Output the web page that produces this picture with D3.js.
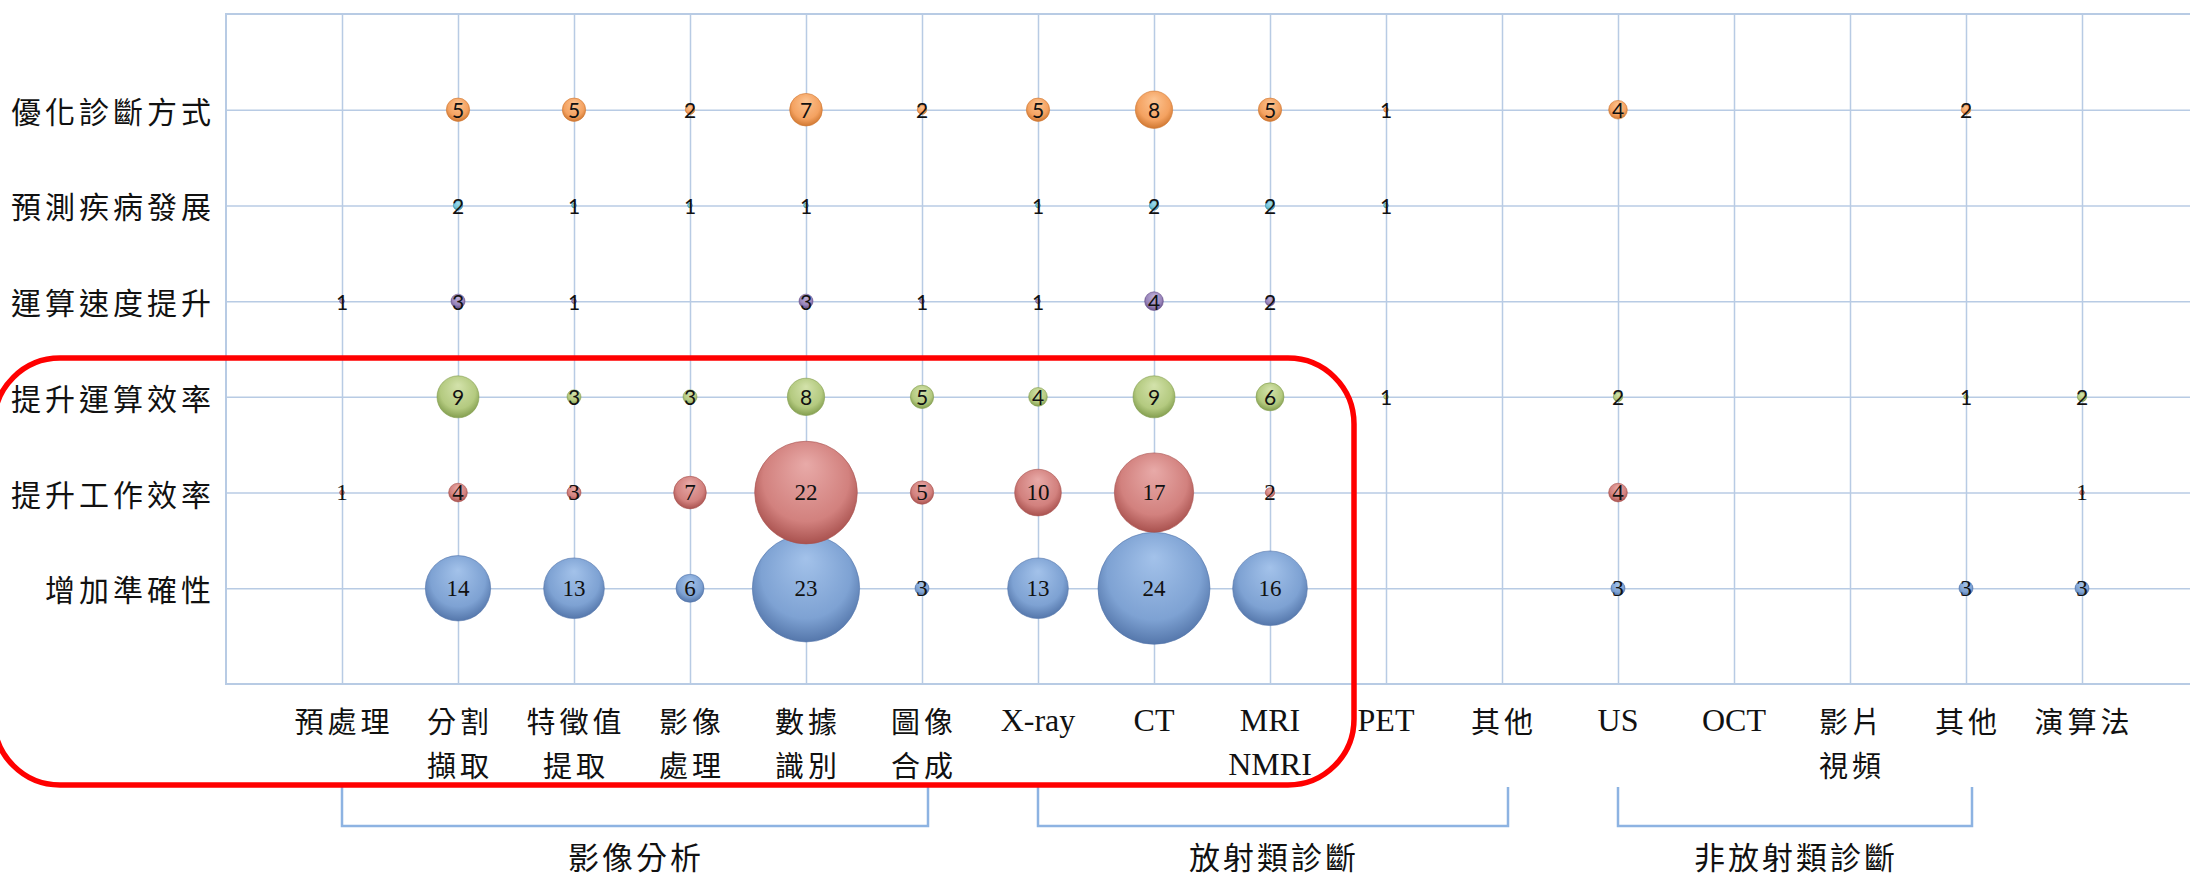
<!DOCTYPE html>
<html>
<head>
<meta charset="utf-8">
<script src="https://cdn.jsdelivr.net/npm/d3@7"></script>
<style>
  html, body { margin: 0; padding: 0; background: #ffffff; }
  svg { display: block; }
</style>
</head>
<body>
<svg id="chart" width="2190" height="878"></svg>
<script>
// ---- data ----
const categories = [
  ["預處理"], ["分割", "擷取"], ["特徵值", "提取"], ["影像", "處理"], ["數據", "識別"],
  ["圖像", "合成"], ["X-ray"], ["CT"], ["MRI", "NMRI"], ["PET"], ["其他"],
  ["US"], ["OCT"], ["影片", "視頻"], ["其他"], ["演算法"]
];
const seriesNames = ["增加準確性", "提升工作效率", "提升運算效率", "運算速度提升", "預測疾病發展", "優化診斷方式"];

// one value per category (null = no bubble)
const accuracyVals = [null, 14, 13, 6, 23, 3, 13, 24, 16, null, null, 3, null, null, 3, 3];
const workEffVals  = [1, 4, 3, 7, 22, 5, 10, 17, 2, null, null, 4, null, null, null, 1];
const compEffVals  = [null, 9, 3, 3, 8, 5, 4, 9, 6, 1, null, 2, null, null, 1, 2];
const speedVals    = [1, 3, 1, null, 3, 1, 1, 4, 2, null, null, null, null, null, null, null];
const predictVals  = [null, 2, 1, 1, 1, null, 1, 2, 2, 1, null, null, null, null, null, null];
const diagVals     = [null, 5, 5, 2, 7, 2, 5, 8, 5, 1, null, 4, null, null, 2, null];

const groupNames = ["影像分析", "放射類診斷", "非放射類診斷"];
const groupStart = [0, 6, 11];
const groupEnd   = [5, 10, 14];

// ---- styling ----
const palette = [
  { light: "#a3c2ea", base: "#7ea2d3", dark: "#5577ab", font: "serif" },
  { light: "#e8aaa8", base: "#d2817e", dark: "#a9524f", font: "serif" },
  { light: "#d3e2ab", base: "#b4ca80", dark: "#849f50", font: "sans" },
  { light: "#bfb1d8", base: "#9884ba", dark: "#6a548c", font: "sans" },
  { light: "#a2dcec", base: "#70c2d9", dark: "#3e92aa", font: "sans" },
  { light: "#fcc492", base: "#f4a261", dark: "#d07832", font: "sans" }
];
const gridColor = "#b8cbe4";
const cjkFont = "'Noto Sans CJK TC', 'Noto Sans CJK SC', sans-serif";
const serifFont = "'Liberation Serif', 'Noto Sans CJK TC', serif";
const sansFont = "Lato, 'Open Sans', sans-serif";

const valueRows = [accuracyVals, workEffVals, compEffVals, speedVals, predictVals, diagVals];

const svg = d3.select("#chart");
const plotLeft = 226, plotTop = 14, plotBottom = 684;
const step = 116;

const x = d3.scaleLinear().domain([0, 17]).range([plotLeft, plotLeft + step * 17]);
const y = d3.scaleLinear().domain([0, 7]).range([plotBottom, plotTop]);
const r = d3.scaleLinear().domain([0, 24]).range([0, 56]);

// gradients for the 3D bubble look
const defs = svg.append("defs");
palette.forEach((p, i) => {
  const g = defs.append("radialGradient")
    .attr("id", "bub" + i)
    .attr("cx", "50%").attr("cy", "42%").attr("r", "58%")
    .attr("fx", "50%").attr("fy", "22%");
  g.append("stop").attr("offset", "0%").attr("stop-color", p.light);
  g.append("stop").attr("offset", "72%").attr("stop-color", p.base);
  g.append("stop").attr("offset", "100%").attr("stop-color", p.dark);
});

// ---- grid ----
const plotW = x.range()[1] - plotLeft;
const plotH = plotBottom - plotTop;

const gx = svg.append("g")
  .attr("transform", `translate(0,${plotBottom})`)
  .call(d3.axisBottom(x).tickValues(d3.range(1, 17)).tickSize(-plotH).tickSizeOuter(0).tickFormat(""));
const gy = svg.append("g")
  .attr("transform", `translate(${plotLeft},0)`)
  .call(d3.axisLeft(y).tickValues(d3.range(1, 7)).tickSize(-plotW).tickSizeOuter(0).tickFormat(""));
[gx, gy].forEach(g => {
  g.select(".domain").remove();
  g.selectAll(".tick line").attr("stroke", gridColor).attr("stroke-width", 1.5);
});

// plot frame: left, top and bottom edges
svg.append("path")
  .attr("d", `M${x(17)},${y(7)} H${x(0)} V${y(0)} H${x(17)}`)
  .attr("fill", "none")
  .attr("stroke", gridColor)
  .attr("stroke-width", 2);

// ---- bubbles ----
const bubbles = [];
valueRows.forEach((vals, si) => {
  vals.forEach((v, ci) => {
    if (v != null) bubbles.push({ s: si, c: ci, v: v });
  });
});

svg.append("g").selectAll("circle")
  .data(bubbles)
  .join("circle")
  .attr("cx", d => x(d.c + 1))
  .attr("cy", d => y(d.s + 1))
  .attr("r", d => r(d.v))
  .attr("fill", d => `url(#bub${d.s})`)
  .attr("stroke", d => palette[d.s].dark)
  .attr("stroke-opacity", 0.6)
  .attr("stroke-width", 1);

svg.append("g").selectAll("text")
  .data(bubbles)
  .join("text")
  .attr("x", d => x(d.c + 1))
  .attr("y", d => y(d.s + 1))
  .attr("text-anchor", "middle")
  .attr("dominant-baseline", "central")
  .attr("font-family", d => palette[d.s].font === "serif" ? serifFont : sansFont)
  .attr("font-size", d => palette[d.s].font === "serif" ? 23 : 21)
  .attr("fill", "#111")
  .text(d => d.v);

// ---- series labels (left) ----
svg.append("g").selectAll("text")
  .data(seriesNames)
  .join("text")
  .attr("x", 215)
  .attr("y", (d, i) => y(i + 1))
  .attr("text-anchor", "end")
  .attr("dominant-baseline", "central")
  .attr("font-family", cjkFont)
  .attr("font-size", 30)
  .attr("letter-spacing", 4)
  .attr("fill", "#111")
  .text(d => d);

// ---- category labels (bottom) ----
const isCJK = s => /[\u3400-\u9fff]/.test(s);
const catG = svg.append("g");
categories.forEach((lines, ci) => {
  lines.forEach((line, li) => {
    const cjk = isCJK(line);
    catG.append("text")
      .attr("x", x(ci + 1) + (cjk ? 2 : 0))
      .attr("y", 720 + li * 44)
      .attr("text-anchor", "middle")
      .attr("dominant-baseline", "central")
      .attr("font-family", cjk ? cjkFont : serifFont)
      .attr("font-size", cjk ? 29 : 32)
      .attr("letter-spacing", cjk ? 4 : 0)
      .attr("fill", "#111")
      .text(line);
  });
});

// ---- group brackets ----
const bracketTop = 787, bracketBottom = 826;
const brG = svg.append("g");
groupNames.forEach((name, gi) => {
  const x0 = x(groupStart[gi] + 1);
  const x1 = x(groupEnd[gi] + 1) + 6;
  brG.append("path")
    .attr("d", `M${x0},${bracketTop} V${bracketBottom} H${x1} V${bracketTop}`)
    .attr("fill", "none")
    .attr("stroke", "#8db3e2")
    .attr("stroke-width", 2.5);
  brG.append("text")
    .attr("x", (x0 + x1) / 2 + 1)
    .attr("y", 855)
    .attr("text-anchor", "middle")
    .attr("dominant-baseline", "central")
    .attr("font-family", cjkFont)
    .attr("font-size", 31)
    .attr("letter-spacing", 3)
    .attr("fill", "#111")
    .text(name);
});

// ---- highlight frame around the image-analysis / radiology block ----
svg.append("rect")
  .attr("x", -6)
  .attr("y", 358)
  .attr("width", 1360)
  .attr("height", 427)
  .attr("rx", 66)
  .attr("ry", 66)
  .attr("fill", "none")
  .attr("stroke", "#ff0000")
  .attr("stroke-width", 5.5);
</script>
</body>
</html>
